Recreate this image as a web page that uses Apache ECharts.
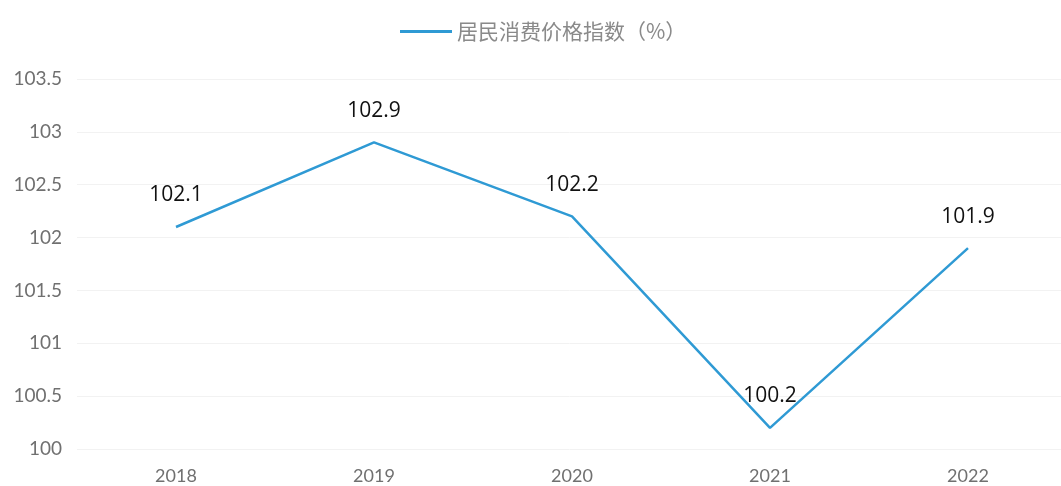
<!DOCTYPE html>
<html>
<head>
<meta charset="utf-8">
<script src="https://cdn.jsdelivr.net/npm/echarts@6/dist/echarts.min.js"></script>
<style>
    html, body {margin: 0; padding: 0; background: #fff;}
    #chart {width: 1061px; height: 486px;}
</style>
</head>
<body>
<div id="chart"></div>
<script>
//---------------------------Data---------------------------
let years = ["2018", "2019", "2020", "2021", "2022"];
let cpi = [102.1, 102.9, 102.2, 100.2, 101.9];
let seriesName = "居民消费价格指数（%）";

//---------------------------Chart---------------------------
let chart = echarts.init(document.getElementById('chart'));

let option = {
    backgroundColor: '#fff',
    legend: {
        top: 16,
        left: 395,
        itemWidth: 52,
        itemHeight: 3,
        itemGap: 7,
        icon: 'rect',
        textStyle: {color: '#8a8a8a', fontSize: 21, fontFamily: 'Noto Sans CJK SC'},
        data: [seriesName]
    },
    grid: {left: 77, top: 79, width: 990, height: 370, containLabel: false, outerBoundsMode: 'none'},
    xAxis: {
        type: 'category',
        data: years,
        boundaryGap: true,
        axisLine: {show: false},
        axisTick: {show: false},
        axisLabel: {color: '#707070', fontSize: 18, margin: 18, fontFamily: 'Lato'}
    },
    yAxis: {
        type: 'value',
        min: 100,
        max: 103.5,
        interval: 0.5,
        axisLine: {show: false},
        axisTick: {show: false},
        axisLabel: {color: '#707070', fontSize: 19, margin: 15, fontFamily: 'Lato'},
        splitLine: {lineStyle: {color: '#f2f2f2', width: 1}}
    },
    series: [{
        name: seriesName,
        type: 'line',
        data: cpi,
        showSymbol: true,
        symbol: 'circle',
        symbolSize: 0,
        lineStyle: {color: '#2f9ad4', width: 2.5},
        itemStyle: {color: '#2f9ad4'},
        label: {
            show: true,
            position: 'top',
            distance: 21,
            color: '#111',
            fontSize: 21,
            fontFamily: 'Open Sans'
        }
    }]
};

chart.setOption(option);
window.onresize = function() {
    chart.resize();
};
</script>
</body>
</html>
